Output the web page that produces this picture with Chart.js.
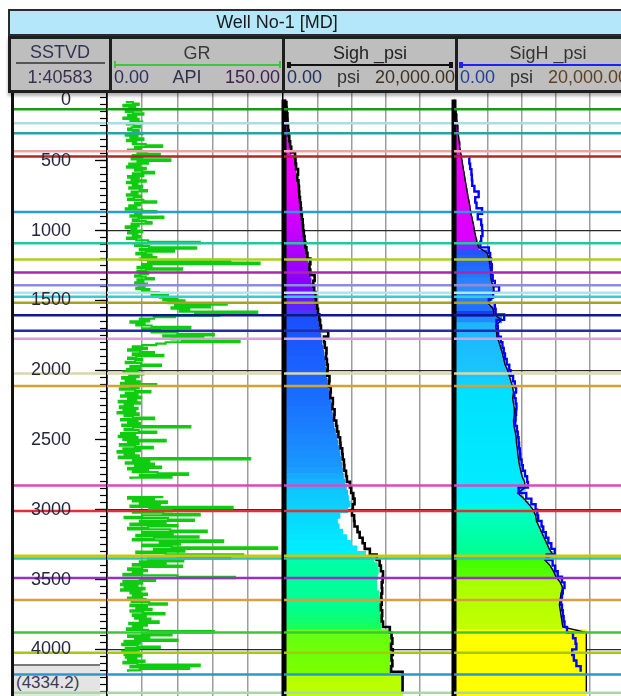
<!DOCTYPE html>
<html><head><meta charset="utf-8">
<script src="https://cdn.jsdelivr.net/npm/chart.js@4.4.1/dist/chart.umd.min.js"></script>
<style>
html,body{margin:0;padding:0;background:#fff;overflow:hidden;width:621px;height:696px;font-family:"Liberation Sans",Arial,sans-serif;}
#wrap{position:relative;width:621px;height:696px;overflow:hidden;background:#fff;}
canvas{position:absolute;z-index:2;}
#title{position:absolute;left:8px;top:9px;width:640px;height:27px;box-sizing:border-box;background:#B3E7F9;border:2px solid #2b2b2b;z-index:5;}
#titleText{position:absolute;left:0;top:10px;width:554px;height:24px;line-height:24px;text-align:center;font-size:18px;color:#1a1a1a;z-index:6;}
#hdr{position:absolute;left:8px;top:36px;width:640px;height:57px;box-sizing:border-box;background:#BEBEBE;border:3px solid #1e1e1e;z-index:5;box-shadow:0 3px 3px rgba(0,0,0,0.3);}
.sep{position:absolute;top:36px;height:57px;width:3px;background:#1e1e1e;z-index:6;}
.t{position:absolute;z-index:7;font-size:18px;line-height:20px;white-space:nowrap;}
.row{display:flex;justify-content:space-between;}
.bar{position:absolute;z-index:7;}
#bottomBox{position:absolute;left:14px;top:664px;width:86px;height:32px;box-sizing:border-box;background:#E4E4E4;border-top:2px solid #7a7a7a;z-index:1;font-size:17px;line-height:34px;color:#3a3a55;padding-left:2px;}
#leftBorder{position:absolute;left:11px;top:91px;width:3px;height:605px;background:#111;z-index:3;}
#cDepthLab{z-index:4;}
</style></head>
<body><div id="wrap">
<div id="title"></div>
<div id="titleText">Well No-1 [MD]</div>
<div id="hdr"></div>
<div class="sep" style="left:109px"></div>
<div class="sep" style="left:282px"></div>
<div class="sep" style="left:455px"></div>

<div class="t" style="left:11px;width:98px;top:42px;text-align:center;color:#333355">SSTVD</div>
<div class="bar" style="left:16px;top:62px;width:89px;height:2px;background:#555"></div>
<div class="t" style="left:11px;width:98px;top:67px;text-align:center;color:#3a3050">1:40583</div>

<div class="t" style="left:112px;width:170px;top:43px;text-align:center;color:#3a3a3a">GR</div>
<div class="bar" style="left:115px;top:64px;width:166px;height:2px;background:#3BC83B"></div>
<div class="bar" style="left:114px;top:61px;width:2px;height:7px;background:#3BC83B"></div>
<div class="bar" style="left:279px;top:61px;width:2px;height:7px;background:#3BC83B"></div>
<div class="t row" style="left:114px;width:166px;top:67px;"><span style="color:#303060">0.00</span><span style="color:#303050">API</span><span style="color:#402050">150.00</span></div>

<div class="t" style="left:285px;width:170px;top:43px;text-align:center;color:#222">Sigh _psi</div>
<div class="bar" style="left:288px;top:64px;width:164px;height:2px;background:#111"></div>
<div class="bar" style="left:287px;top:62px;width:4px;height:6px;background:#111"></div>
<div class="bar" style="left:449px;top:62px;width:4px;height:6px;background:#111"></div>
<div class="t row" style="left:287px;width:168px;top:67px;"><span style="color:#203060">0.00</span><span style="color:#303030">psi</span><span style="color:#403020">20,000.00</span></div>

<div class="t" style="left:458px;width:180px;top:43px;text-align:center;color:#333">SigH _psi</div>
<div class="bar" style="left:460px;top:64px;width:175px;height:2px;background:#1f1fff"></div>
<div class="bar" style="left:459px;top:62px;width:4px;height:6px;background:#1f1fff"></div>
<div class="t row" style="left:460px;width:168px;top:67px;"><span style="color:#2040A0">0.00</span><span style="color:#303030">psi</span><span style="color:#604020">20,000.00</span></div>

<div id="bottomBox"></div>
<div id="leftBorder"></div>

<canvas id="cDepth" width="97" height="605" style="left:12px;top:91px"></canvas>
<canvas id="cDepthLab" width="97" height="605" style="left:12px;top:91px"></canvas>
<canvas id="cGR" width="180" height="605" style="left:105px;top:91px"></canvas>
<canvas id="cSigh" width="178" height="605" style="left:280px;top:91px"></canvas>
<canvas id="cSigH" width="176" height="605" style="left:450px;top:91px"></canvas>
</div>
<script>
// ================= DATA =================
const depthMin = 0;
const depthMax = 4334.2;          // bottom depth shown as (4334.2)
const depthTickValues = [0,500,1000,1500,2000,2500,3000,3500,4000];
const depthMinorStep = 50;
const majorGridDepths = [1000,2000,3000,4000];

// GR (API), sampled every 10 m starting at 80
const grTop = 80, grStep = 10;
const grValues = [
  16,22,27,14,24,19,29,16,22,31,18,25,14,27,20,30,17,23,28,21,          // 80-270
  18,27,22,30,16,26,20,31,17,25,22,33,47,24,29,18,34,26,45,22,          // 280-470
  30,21,54,26,35,19,28,17,33,24,30,40,22,31,18,27,21,33,17,26,          // 480-670
  22,30,19,28,34,21,26,17,29,23,18,31,42,24,28,19,25,16,30,42,          // 680-870
  24,29,20,48,27,22,33,38,21,27,16,25,21,30,18,26,22,28,17,25,          // 880-1070
  35,79,30,24,36,76,28,57,33,25,38,30,42,28,105,35,130,30,38,26,        // 1080-1270
  64,33,26,35,28,24,33,40,26,31,24,34,27,32,25,36,30,44,38,52,          // 1280-1470
  45,60,48,66,52,102,58,88,55,70,62,128,75,96,58,40,28,36,20,32,        // 1480-1670
  25,38,71,30,45,38,60,91,48,82,55,64,113,50,42,30,22,34,18,28,         // 1680-1870
  40,22,48,25,18,30,24,16,29,46,20,28,17,26,14,31,19,27,13,24,          // 1880-2070
  16,28,12,42,20,27,11,24,37,16,26,12,29,18,25,10,28,15,22,11,          // 2080-2270
  26,14,24,9,27,15,22,40,12,26,18,28,13,71,22,15,27,42,12,24,           // 2280-2470
  10,26,14,50,18,27,11,24,39,14,28,9,23,15,27,10,122,22,36,16,          // 2480-2670
  40,24,46,18,35,22,43,69,28,55,20,null,null,null,null,null,null,null,null,null, // 2680-2870
  null,null,null,48,18,40,22,51,28,45,20,107,36,55,22,48,79,30,15,52,   // 2880-3070
  74,28,50,20,60,35,18,54,85,30,56,25,78,40,22,99,45,62,30,55,          // 3080-3270
  145,40,66,25,50,116,60,105,35,65,28,50,22,64,30,18,34,22,30,14,       // 3280-3470
  60,109,28,41,14,30,12,26,15,32,12,28,20,34,22,30,18,33,21,36,         // 3480-3670
  51,20,34,25,38,20,31,49,22,33,24,37,28,44,19,34,22,30,17,35,          // 3680-3870
  91,30,55,18,36,24,60,15,28,13,26,45,16,27,13,24,15,29,16,25,          // 3880-4070
  18,32,14,26,79,20,70,28,18                                            // 4080-4160
];

// Stress logs (psi), sampled every 40 m starting at 80
const logTop = 80, logStep = 40;
const sighFill = [
  150,250,330,380,400,460,520,600,700,820,
  1250,1300,1380,1420,1500,1600,1700,1760,1830,1900,
  1960,2050,2130,2200,2300,2380,2450,2580,2700,2850,
  2950,3050,3200,3350,3500,3600,3700,3800,3900,4050,
  4150,4250,4350,4450,4600,4700,4800,4850,4950,5000,
  5100,5200,5300,5400,5500,5600,5700,5800,5900,6050,
  6200,6350,6500,6600,6700,6800,6900,7000,7150,7350,
  7500,7600,7800,7500,6600,6300,6500,6900,7400,7900,
  8600,9600,10600,11000,11100,11000,10900,10900,11200,11300,
  11300,11300,11350,11400,11400,12300,12500,12600,12600,12500,
  12500,12400,12500,13950,13950,13950,13950
];
const sighCurve = [
  150,280,330,400,420,480,540,620,720,850,
  1300,1350,1420,1650,1560,1700,1760,1800,1880,1960,
  2020,2100,2200,2250,2330,2420,2500,2640,2760,3100,
  3000,3100,3600,3450,3550,3700,3760,3900,4000,4150,
  4250,4350,5200,4700,4800,5000,4950,5050,5150,5100,
  5350,5300,5500,5450,5750,5700,5950,5900,6150,6250,
  6400,6600,6650,6850,6900,7050,7100,7300,7400,7750,
  7900,8150,8300,8100,8000,8250,8300,8650,8900,9250,
  9500,10100,10900,11250,11400,11650,11600,11500,11550,11450,
  11500,11400,11550,11500,11650,12450,12650,12750,12600,12800,
  12650,12750,12600,13950,13950,13950,13950
];
const sigHFill = [
  60,150,250,330,400,460,530,600,680,780,
  900,1000,1100,1220,1320,1430,1550,1650,1800,1900,
  2000,2150,2300,2400,2550,2700,2900,3900,4100,4200,
  4300,4300,4400,4600,4700,4500,4000,4600,4700,5600,
  4900,5000,5050,5300,5500,5700,5850,6000,6300,6500,
  6700,6900,7000,6900,7000,7100,7100,7000,7050,7200,
  7300,7350,7450,7500,7600,7700,7850,8000,8300,8400,
  7500,8200,8800,9300,9600,9700,10000,10300,10600,10900,
  11200,11600,10700,11300,11700,12000,12500,12800,12600,12500,
  12400,12500,12600,12700,12800,15570,15570,15570,15570,15570,
  15570,15570,15570,15570,15570,15570,15570
];
const sigHCurve = [
  null,null,null,null,null,null,null,null,null,null,
  1750,1800,1900,2050,2100,2150,2400,2900,2500,2650,
  3300,2800,3200,3300,3350,3200,3100,4100,4250,4350,
  4450,4400,4550,4800,5300,4600,4100,4800,4900,5900,
  5000,5150,5200,5500,5700,5850,6000,6200,6500,6650,
  6950,7150,7300,7100,7250,7350,7300,7250,7200,7400,
  7500,7600,7650,7750,7800,7950,8100,8350,8600,8700,
  7600,8500,9100,9600,9800,9900,10300,10500,10800,11100,
  11450,11850,10900,11600,11900,12200,12700,13000,12800,12700,
  12600,12700,12800,12900,13000,13300,14000,14300,14400,13900,
  14100,14400,14900,null,null,null,null
];

// Formation tops (depth) and their line colours
const formationDepths = [131,231,303,432,469,866,1091,1207,1300,1392,1446,1474,1517,1606,1718,1774,2023,2114,2826,3008,3330,3349,3488,3647,3879,4025,4180,4311];
const formationColors = ['#1A9A1A','#A8DDE3','#2AA3A8','#EBA4A4','#B02828','#2A9AD8','#20C8A0','#A8D020','#A828A8','#8C8CD8','#A8E8E8','#30D0D0','#A8A020','#10188C','#2828B0','#D8A0D8','#D8D8A8','#D8A030','#D848C0','#E03030','#C8C810','#30C0B8','#9830C8','#D8A040','#38C838','#A8C810','#2898D0','#A8D8A8'];

// ================= STYLE =================
const sighStops = [[0,'#FF00FF'],[700,'#EE00FF'],[1100,'#B800FF'],[1400,'#8400FF'],[1560,'#5A28FF'],[1640,'#1A50FF'],[2200,'#1A6EFF'],[2700,'#1A98FF'],[2850,'#10C4FF'],[3320,'#00F0FF'],[3330,'#00FFA8'],[3700,'#00FF90'],[3860,'#18FF58'],[3880,'#64FF10'],[4180,'#7CFF00'],[4190,'#B8FF00'],[4400,'#C0FF00']];
const sigHStops = [[0,'#FF00FF'],[1100,'#D800FF'],[1140,'#2450FF'],[1300,'#2470FF'],[1420,'#3090FF'],[1560,'#2070FF'],[1600,'#1040FF'],[1660,'#20B4FF'],[2050,'#18C8FF'],[2150,'#00E0FF'],[2960,'#00EEFF'],[2990,'#00FFC8'],[3320,'#00FF90'],[3340,'#3CFF00'],[3500,'#5CFF00'],[3520,'#A8FF00'],[3870,'#C4FF00'],[3880,'#FFFF00'],[4400,'#FFFF00']];
const FONT = 'Liberation Sans';
const depthLabelX = 0.621;   // where (in depth-track units 0..1) the depth labels end

document.getElementById('bottomBox').textContent = '(' + depthMax.toFixed(1) + ')';

function hexToRgb(h){return [parseInt(h.slice(1,3),16),parseInt(h.slice(3,5),16),parseInt(h.slice(5,7),16)];}
function colorAt(stops,d){
  if(d<=stops[0][0]) return stops[0][1];
  for(let i=1;i<stops.length;i++){
    if(d<=stops[i][0]){
      const a=hexToRgb(stops[i-1][1]), b=hexToRgb(stops[i][1]);
      const t=(d-stops[i-1][0])/(stops[i][0]-stops[i-1][0]);
      return 'rgb('+a.map((v,k)=>Math.round(v+(b[k]-v)*t)).join(',')+')';
    }
  }
  return stops[stops.length-1][1];
}

const grData = grValues.map((v,i)=>({x:v, y:grTop+i*grStep}));
const logDepth = sighFill.map((_,i)=>logTop+i*logStep);
const toPts = arr => arr.map((v,i)=>({x:v, y:logDepth[i]}));

function formationSets(xmin,xmax,yId){
  return formationDepths.map((d,i)=>({
    type:'line', data:[{x:xmin,y:d},{x:xmax,y:d}], borderColor:formationColors[i],
    borderWidth:2.5, pointRadius:0, order:0, yAxisID:yId||'y', xAxisID:'x'
  }));
}
const noAfterPad = s => { s.paddingTop=0; s.paddingBottom=0; };
const setTicks = vals => s => { s.ticks = vals.map(v=>({value:v})); };

function depthGridScale(){
  return {
    type:'linear', reverse:true, min:depthMin, max:depthMax, offset:false, position:'left',
    ticks:{display:false, autoSkip:false},
    afterBuildTicks: setTicks(majorGridDepths),
    grid:{drawTicks:false, offset:false, lineWidth:1.3, color:'#2a2a2a'},
    border:{display:false},
    afterFit: s => { s.width=0; s.paddingTop=0; s.paddingBottom=0; }
  };
}
function trackXScale(max,step,edgeColor){
  return {
    type:'linear', min:0, max:max, position:'top', offset:false,
    ticks:{display:false, stepSize:step, autoSkip:false},
    grid:{drawTicks:false, offset:false, lineWidth:1.5,
      color: c => (c.tick && (c.tick.value===0 || c.tick.value===max)) ? edgeColor : '#9C9C9C'},
    border:{display:false},
    afterFit: s => { s.height=0; }
  };
}
const baseOpts = {
  animation:false, responsive:false, devicePixelRatio:1, events:[], indexAxis:'y',
  plugins:{legend:{display:false}, tooltip:{enabled:false}},
  elements:{point:{radius:0}, line:{tension:0}}
};

// ---------- Depth track (ticks + formation lines) ----------
new Chart(document.getElementById('cDepth'), {
  type:'line',
  data:{datasets: formationSets(0,1,'y')},
  options:Object.assign({}, baseOpts, {
    layout:{padding:{left:0,right:2,top:0,bottom:0}},
    scales:{
      x:{type:'linear', min:0, max:1, display:false},
      y:{type:'linear', axis:'y', reverse:true, min:depthMin, max:depthMax, offset:false, position:{x:1},
        ticks:{display:false, autoSkip:false},
        afterBuildTicks: setTicks(depthTickValues),
        grid:{drawOnChartArea:false, tickLength:11, tickColor:'#000', tickWidth:1.3},
        border:{display:true, color:'#000', width:1.5},
        afterFit: noAfterPad},
      yMinor:{type:'linear', axis:'y', reverse:true, min:depthMin, max:depthMax, offset:false, position:{x:1},
        ticks:{display:false, stepSize:depthMinorStep, includeBounds:false, autoSkip:false},
        grid:{drawOnChartArea:false, tickLength:7, tickColor:'#000', tickWidth:1.2},
        border:{display:false},
        afterFit: noAfterPad}
    }
  })
});
// ---------- Depth labels (drawn above the formation lines) ----------
new Chart(document.getElementById('cDepthLab'), {
  type:'line',
  data:{datasets:[]},
  options:Object.assign({}, baseOpts, {
    layout:{padding:{left:0,right:2,top:0,bottom:0}},
    scales:{
      x:{type:'linear', min:0, max:1, display:false},
      y:{type:'linear', axis:'y', reverse:true, min:depthMin, max:depthMax, offset:false, position:{x:depthLabelX},
        ticks:{autoSkip:false, padding:0, color:'#262640',
          font:{family:FONT, size:18, lineHeight:1.0},
          callback: v => v===0 ? ['', String(v)] : String(v)},
        afterBuildTicks: setTicks(depthTickValues),
        grid:{display:false, drawOnChartArea:false, drawTicks:false},
        border:{display:false},
        afterFit: noAfterPad}
    }
  })
});

// ---------- GR track ----------
new Chart(document.getElementById('cGR'), {
  type:'line',
  data:{datasets:[
    {data:grData, borderColor:'#10CC10', borderWidth:2.2, pointRadius:0, stepped:'before', order:1, spanGaps:false},
    ...formationSets(0,150)
  ]},
  options:Object.assign({}, baseOpts, {
    layout:{padding:{left:2,right:2,top:0,bottom:0}},
    scales:{ x:trackXScale(150,30,'#000'), y:depthGridScale() }
  })
});

// ---------- Stress tracks ----------
function stressChart(id, fill, stops, curveSets, padRight){
  const fillTop = logDepth[0]-logStep/2;
  return new Chart(document.getElementById(id), {
    type:'bar',
    data:{datasets:[
      {type:'bar', data:toPts(fill), backgroundColor: c => colorAt(stops, c.raw ? c.raw.y : 0),
        barThickness:6, grouped:false, borderWidth:0, order:4},
      {type:'line', data:[{x:0,y:fillTop},{x:0,y:depthMax}], borderColor:'#000', borderWidth:5, clip:4, pointRadius:0, order:3},
      ...curveSets,
      ...formationSets(0,20000)
    ]},
    options:Object.assign({}, baseOpts, {
      layout:{padding:{left:4,right:padRight,top:0,bottom:0}},
      scales:{ x:trackXScale(20000,4000,'rgba(0,0,0,0)'), y:depthGridScale() }
    })
  });
}
stressChart('cSigh', sighFill, sighStops, [
  {type:'line', data:toPts(sighCurve), borderColor:'#000', borderWidth:2.6, pointRadius:0, stepped:'before', order:1}
], 4);
stressChart('cSigH', sigHFill, sigHStops, [
  {type:'line', data:toPts(sigHFill), borderColor:'#000', borderWidth:1.4, pointRadius:0, order:2},
  {type:'line', data:toPts(sigHCurve), borderColor:'#0000FF', borderWidth:2.4, pointRadius:0, stepped:'before', order:1}
], 2);
</script>
</body></html>
